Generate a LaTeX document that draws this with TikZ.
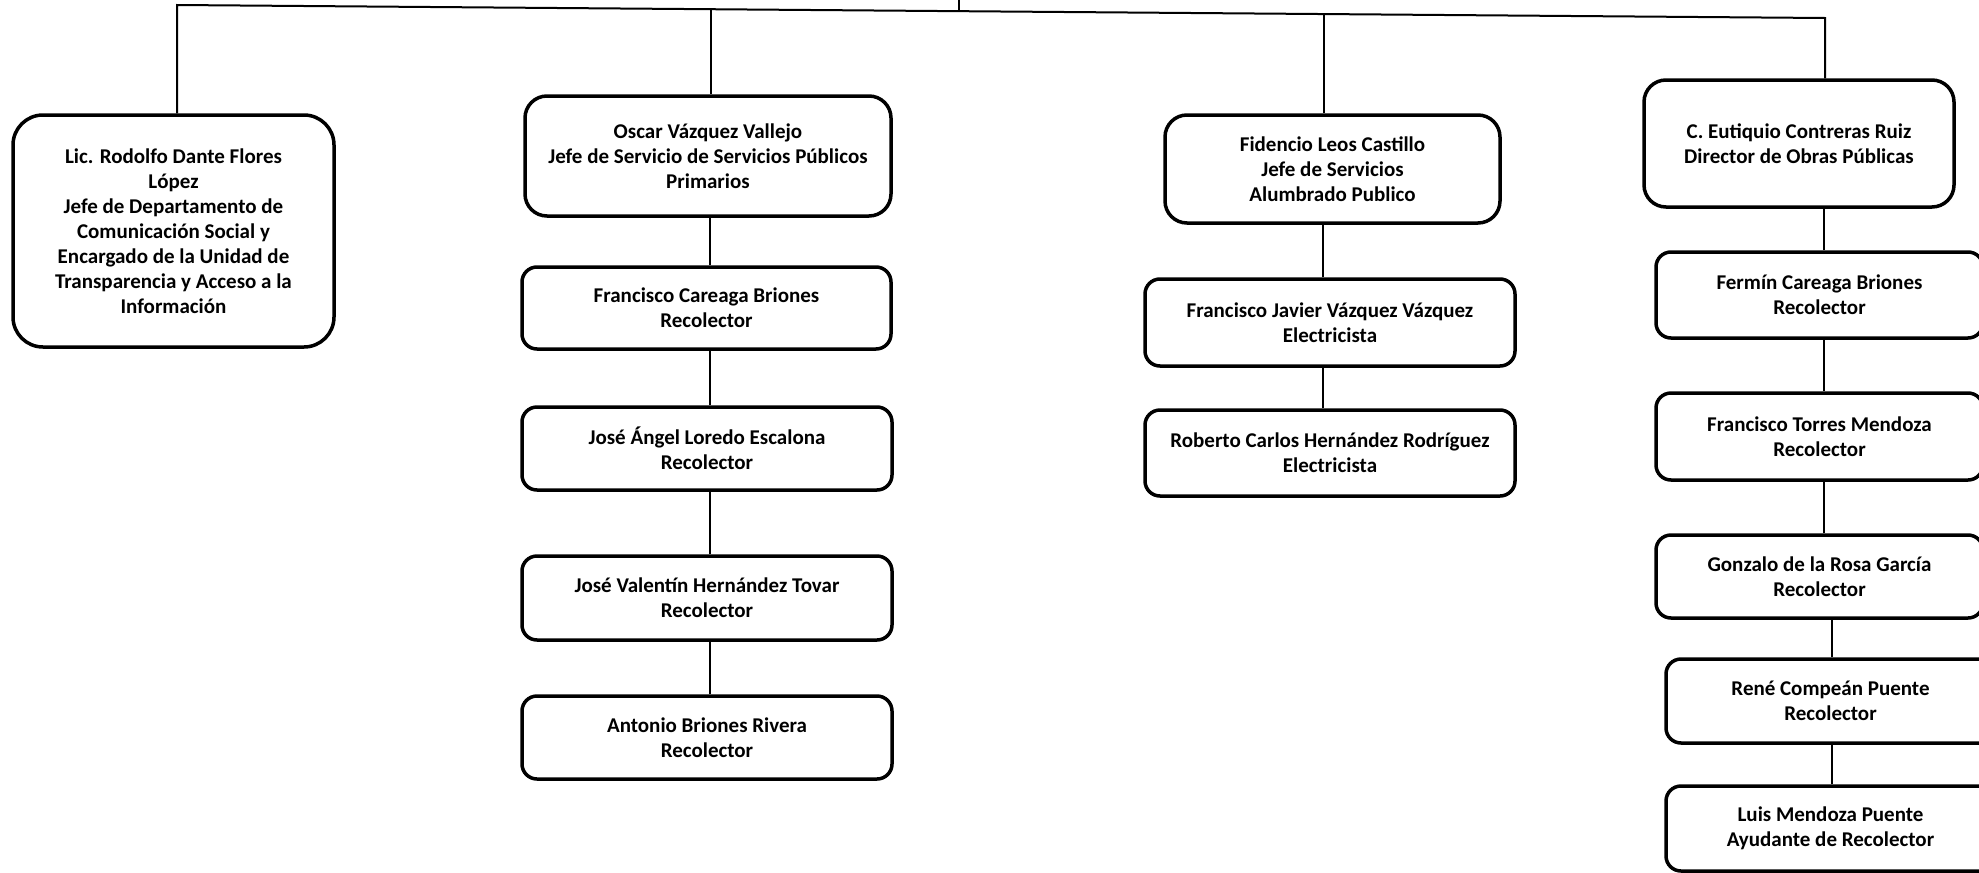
\documentclass[tikz,border=0pt]{standalone}
\usepackage{fontspec}
\setmainfont{Carlito}
\usetikzlibrary{calc}
\tikzset{
  box/.style={draw=black, line width=3.5pt, rounded corners=15pt, align=center, inner sep=0pt,
    font=\bfseries\fontsize{21}{25}\selectfont, fill=white},
  bigbox/.style={box, rounded corners=30pt},
  midbox/.style={box, rounded corners=22pt},
  wh/.style 2 args={minimum width=#1pt, minimum height=#2pt},
  conn/.style={line width=2pt, draw=black},
}
\begin{document}
\begin{tikzpicture}[x=1pt, y=-1pt]
\useasboundingbox (0,0) rectangle (1979,873);
\fill[white] (0,0) rectangle (1979,873);
\clip (0,0) rectangle (1979,873);

% column 1
\node[bigbox, wh={321}{232}] (b1) at (173.5,231) {Lic. Rodolfo Dante Flores\\López\\Jefe de Departamento de\\Comunicación Social y\\Encargado de la Unidad de\\Transparencia y Acceso a la\\Información};

% column 2
\node[midbox, wh={366}{120}] (b2) at (708,156) {Oscar Vázquez Vallejo\\Jefe de Servicio de Servicios Públicos\\Primarios};
\node[box, wh={369}{82}] (b2b) at (706.5,308) {Francisco Careaga Briones\\Recolector};
\node[box, wh={370}{83}] (b2c) at (707,448.5) {José Ángel Loredo Escalona\\Recolector};
\node[box, wh={370}{84}] (b2d) at (707,598) {José Valentín Hernández Tovar\\Recolector};
\node[box, wh={370}{83}] (b2e) at (707,737.5) {Antonio Briones Rivera\\Recolector};

% column 3
\node[midbox, wh={335}{108}] (b3) at (1332.5,169) {Fidencio Leos Castillo\\Jefe de Servicios\\Alumbrado Publico};
\node[box, wh={370}{87}] (b3b) at (1330,322.5) {Francisco Javier Vázquez Vázquez\\Electricista};
\node[box, wh={370}{86}] (b3c) at (1330,453) {Roberto Carlos Hernández Rodríguez\\Electricista};

% column 4
\node[midbox, wh={310}{127}] (b4) at (1799,143.5) {C. Eutiquio Contreras Ruiz\\Director de Obras Públicas};
\node[box, wh={327}{86}] (b4b) at (1819.5,295) {Fermín Careaga Briones\\Recolector};
\node[box, wh={327}{87}] (b4c) at (1819.5,436.5) {Francisco Torres Mendoza\\Recolector};
\node[box, wh={327}{83}] (b4d) at (1819.5,576.5) {Gonzalo de la Rosa García\\Recolector};
\node[box, wh={329}{84}] (b4e) at (1830.5,701) {René Compeán Puente\\Recolector};
\node[box, wh={329}{85}] (b4f) at (1830.5,828.5) {Luis Mendoza Puente\\Ayudante de Recolector};

% bus
\coordinate (L) at (177,5);
\coordinate (R) at (1825,18);
\coordinate (top) at (959,0);
\coordinate (t0) at (959,11);
\coordinate (t2) at (711,9.2);
\coordinate (t3) at (1324,14);

\draw[conn] (L |- b1.north) -- (L) -- (R) -- (R |- b4.north);
\draw[conn] (top) -- (t0);
\draw[conn] (t2) -- (t2 |- b2.north);
\draw[conn] (t3) -- (t3 |- b3.north);

% chains
\draw[conn] ([xshift=3.5pt]b2b.north) -- ([xshift=3.5pt]b2b.north |- b2.south);
\draw[conn] ([xshift=3pt]b2c.north) -- ([xshift=3pt]b2c.north |- b2b.south);
\draw[conn] ([xshift=3pt]b2d.north) -- ([xshift=3pt]b2d.north |- b2c.south);
\draw[conn] ([xshift=3pt]b2e.north) -- ([xshift=3pt]b2e.north |- b2d.south);

\draw[conn] ([xshift=-7pt]b3b.north) -- ([xshift=-7pt]b3b.north |- b3.south);
\draw[conn] ([xshift=-7pt]b3c.north) -- ([xshift=-7pt]b3c.north |- b3b.south);

\draw[conn] ([xshift=4pt]b4b.north) -- ([xshift=4pt]b4b.north |- b4.south);
\draw[conn] ([xshift=4pt]b4c.north) -- ([xshift=4pt]b4c.north |- b4b.south);
\draw[conn] ([xshift=4pt]b4d.north) -- ([xshift=4pt]b4d.north |- b4c.south);
\draw[conn] ([xshift=1.5pt]b4e.north) -- ([xshift=1.5pt]b4e.north |- b4d.south);
\draw[conn] ([xshift=1.5pt]b4f.north) -- ([xshift=1.5pt]b4f.north |- b4e.south);
\end{tikzpicture}
\end{document}
